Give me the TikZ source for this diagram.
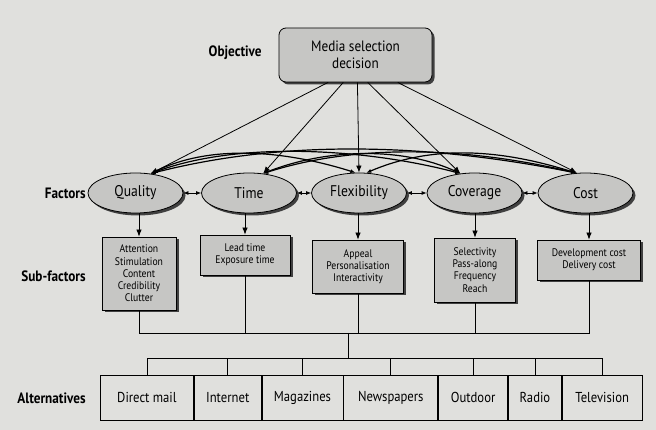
\documentclass[tikz,border=0pt]{standalone}
\usepackage{fontspec}
\setmainfont{PT Sans}[FakeStretch=0.88]
\usetikzlibrary{shapes.geometric,shadows,arrows.meta,positioning}
\definecolor{paper}{RGB}{224,224,221}
\definecolor{boxgray}{RGB}{198,198,196}

\begin{document}
\begin{tikzpicture}[x=1pt,y=-1pt,line width=0.8pt,
    arr/.style={-{Latex[length=7pt,width=5.5pt]}},
    twoway/.style={{Latex[length=5pt,width=4pt]}-{Latex[length=5pt,width=4pt]}},
    dropsh/.style={drop shadow={shadow xshift=2.5pt,shadow yshift=-2.5pt,fill=black!75,opacity=1}},
    factor/.style={ellipse,draw,fill=boxgray,dropsh,minimum width=95pt,minimum height=40pt,inner sep=0pt,font=\fontsize{15.5}{17}\selectfont},
    subbox/.style={rectangle,draw,fill=boxgray,dropsh,align=center,inner sep=0pt,font=\fontsize{11}{12.2}\selectfont},
    altbox/.style={rectangle,draw,minimum height=45pt,inner sep=0pt,font=\fontsize{14.4}{16}\selectfont},
    rowlabel/.style={anchor=east,inner sep=0pt,font=\bfseries\fontsize{15}{17}\selectfont}]
  \fill[paper] (0,0) rectangle (656,430);

  % objective
  \node[rowlabel] (lobj) at (262,53) {Objective};
  \node[draw,fill=boxgray,rounded corners=7pt,dropsh,minimum width=153pt,minimum height=54pt,
        align=center,font=\fontsize{15}{16.5}\selectfont] (obj) at (355.5,55) {Media selection\\decision};

  % factors
  \node[rowlabel] (lfac) at (86,193) {Factors};
  \node[factor] (qual) at (135.5,193) {Quality};
  \node[factor] (time) at (249,193) {Time};
  \node[factor] (flex) at (359,193) {Flexibility};
  \node[factor] (cov) at (474.5,193) {Coverage};
  \node[factor] (cost) at (585.5,193) {Cost};

  \draw[arr] (obj.-135) -- (qual.52);
  \draw[arr] (obj.-114) -- (time.54);
  \draw[arr] (obj.-86) -- (flex.90);
  \draw[arr] (obj.-66) -- (cov.126);
  \draw[arr] (obj.-33) -- (cost.113);

  \draw[twoway] (qual) -- (time);
  \draw[twoway] (time) -- (flex);
  \draw[twoway] (flex) -- (cov);
  \draw[twoway] (cov) -- (cost);

  \draw[twoway,line width=1.2pt] (qual.52) .. controls +(60,-30) and +(-70,-22) .. (flex.100);
  \draw[twoway,line width=1.2pt] (qual.52) .. controls +(90,-34) and +(-90,-24) .. (cov.126);
  \draw[twoway,line width=1.2pt] (qual.52) .. controls +(140,-36) and +(-140,-28) .. (cost.115);
  \draw[twoway,line width=1.2pt] (time.54) .. controls +(60,-24) and +(-60,-28) .. (cov.126);
  \draw[twoway,line width=1.2pt] (time.54) .. controls +(100,-32) and +(-100,-24) .. (cost.115);
  \draw[twoway,line width=1.2pt] (flex.70) .. controls +(70,-30) and +(-70,-22) .. (cost.115);

  % sub-factors
  \node[rowlabel] (lsub) at (86,276) {Sub-factors};
  \node[subbox,minimum width=74pt,minimum height=73pt] (squal) at (139,273.5) {Attention\\Stimulation\\Content\\Credibility\\Clutter};
  \node[subbox,minimum width=90pt,minimum height=40pt] (stime) at (245,255) {Lead time\\Exposure time};
  \node[subbox,minimum width=91pt,minimum height=53pt] (sflex) at (358,266.5) {Appeal\\Personalisation\\Interactivity};
  \node[subbox,minimum width=81pt,minimum height=64pt] (scov) at (475,270) {Selectivity\\Pass-along\\Frequency\\Reach};
  \node[subbox,minimum width=103pt,minimum height=40pt] (scost) at (589,260) {Development cost\\Delivery cost};

  \draw[arr] (qual.south -| squal) -- (squal);
  \draw[arr] (time.south -| stime) -- (stime);
  \draw[arr] (flex.south -| sflex) -- (sflex);
  \draw[arr] (cov.south -| scov) -- (scov);
  \draw[arr] (cost.south -| scost) -- (scost);

  % alternatives
  \node[rowlabel] (lalt) at (86,398) {Alternatives};
  \node[altbox,minimum width=93pt,anchor=west] (amail) at (100,397.5) {Direct mail};
  \node[altbox,minimum width=67pt,right=0pt of amail] (anet) {Internet};
  \node[altbox,minimum width=81pt,right=0pt of anet] (amag) {Magazines};
  \node[altbox,minimum width=94pt,right=0pt of amag] (anews) {Newspapers};
  \node[altbox,minimum width=69pt,right=0pt of anews] (aout) {Outdoor};
  \node[altbox,minimum width=53pt,right=0pt of aout] (aradio) {Radio};
  \node[altbox,minimum width=80pt,right=0pt of aradio] (atv) {Television};

  \coordinate (bus) at (348,333);
  \coordinate (bus2) at (348,358);
  \foreach \b in {squal,stime,sflex,scov,scost}
    \draw (\b.south) |- (bus);
  \draw (bus) -- (bus2);
  \foreach \a in {amail,anet,amag,anews,aout,aradio,atv}
    \draw (bus2) -| (\a.north);
\end{tikzpicture}
\end{document}
